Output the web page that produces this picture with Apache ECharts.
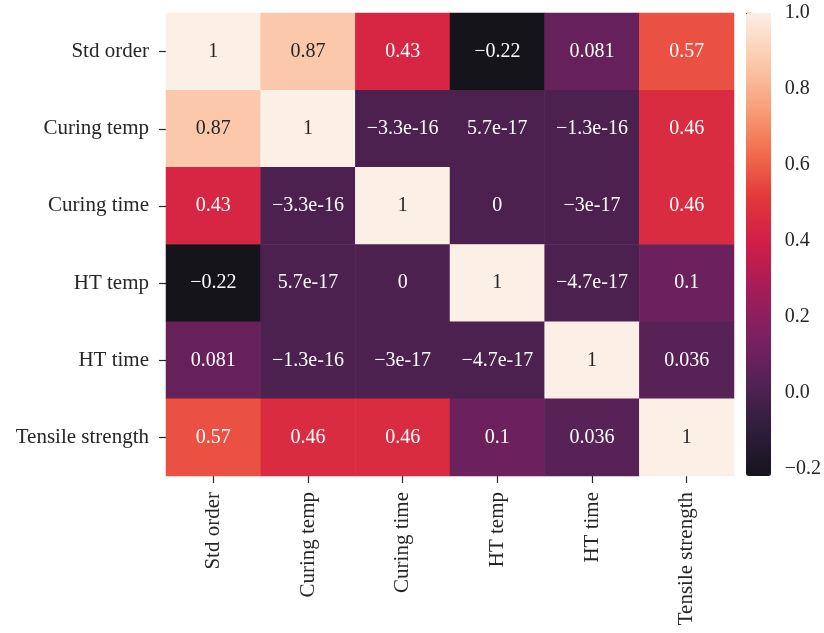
<!DOCTYPE html>
<html>
<head>
<meta charset="utf-8">
<script src="https://cdn.jsdelivr.net/npm/echarts@6/dist/echarts.min.js"></script>
<style>html,body{margin:0;padding:0;background:#fff;}#c{width:824px;height:633px;}</style>
</head>
<body>
<div id="c"></div>
<script>
const labels = ['Std order', 'Curing temp', 'Curing time', 'HT temp', 'HT time', 'Tensile strength'];
const corr = [
  [1, 0.87, 0.43, -0.22, 0.081, 0.57],
  [0.87, 1, -3.3e-16, 5.7e-17, -1.3e-16, 0.46],
  [0.43, -3.3e-16, 1, 0, -3e-17, 0.46],
  [-0.22, 5.7e-17, 0, 1, -4.7e-17, 0.1],
  [0.081, -1.3e-16, -3e-17, -4.7e-17, 1, 0.036],
  [0.57, 0.46, 0.46, 0.1, 0.036, 1]
];
const annot = [
  ['1', '0.87', '0.43', '\u22120.22', '0.081', '0.57'],
  ['0.87', '1', '\u22123.3e-16', '5.7e-17', '\u22121.3e-16', '0.46'],
  ['0.43', '\u22123.3e-16', '1', '0', '\u22123e-17', '0.46'],
  ['\u22120.22', '5.7e-17', '0', '1', '\u22124.7e-17', '0.1'],
  ['0.081', '\u22121.3e-16', '\u22123e-17', '\u22124.7e-17', '1', '0.036'],
  ['0.57', '0.46', '0.46', '0.1', '0.036', '1']
];
const cbTicks = [-0.2, 0, 0.2, 0.4, 0.6, 0.8, 1.0];
const vMin = -0.22, vMax = 1;
// rocket-like colormap, evenly spaced stops
const rocket = ['#15141b', '#2e1d3b', '#532255', '#7c2060', '#a21d58', '#d01d49',
                '#e2373a', '#f26e4c', '#f7a27c', '#fbcbaf', '#fcefe5'];

const FONT = "'Liberation Serif', 'DejaVu Serif', serif";
const TXT = '#262626';

const data = [];
for (let r = 0; r < labels.length; r++) {
  for (let c = 0; c < labels.length; c++) {
    const v = corr[r][c];
    data.push({
      value: [c, r, v],
      label: { color: v > 0.7 ? TXT : '#ffffff' }
    });
  }
}

const chart = echarts.init(document.getElementById('c'), null, { renderer: 'canvas' });
chart.setOption({
  animation: false,
  backgroundColor: '#ffffff',
  textStyle: { fontFamily: FONT },
  grid: [
    { left: 166, top: 13, width: 568, height: 463 },
    { left: 746, top: 13, width: 25, height: 463 }
  ],
  xAxis: [
    {
      type: 'category', data: labels, gridIndex: 0,
      axisLine: { show: false },
      axisTick: { show: true, alignWithLabel: true, length: 7, lineStyle: { color: TXT, width: 1.2 } },
      axisLabel: { rotate: 90, margin: 16, color: TXT, fontSize: 21, fontFamily: FONT, interval: 0 },
      splitLine: { show: false }
    },
    { type: 'value', gridIndex: 1, show: false, min: 0, max: 1 }
  ],
  yAxis: [
    {
      type: 'category', data: labels, gridIndex: 0, inverse: true,
      axisLine: { show: false },
      axisTick: { show: true, alignWithLabel: true, length: 7, lineStyle: { color: TXT, width: 1.2 } },
      axisLabel: { margin: 17, color: TXT, fontSize: 21, fontFamily: FONT, interval: 0 },
      splitLine: { show: false }
    },
    {
      type: 'value', gridIndex: 1, position: 'right', min: vMin, max: vMax,
      axisLine: { show: false },
      splitLine: { show: false },
      axisTick: { show: true, length: 7, customValues: cbTicks, lineStyle: { color: TXT, width: 1.2 } },
      axisLabel: {
        customValues: cbTicks, margin: 15, color: TXT, fontSize: 20, fontFamily: FONT,
        formatter: v => v.toFixed(1).replace('-', '\u2212')
      }
    }
  ],
  visualMap: {
    type: 'continuous', min: vMin, max: vMax, dimension: 2, seriesIndex: 0,
    orient: 'vertical', left: 746, top: 13, itemWidth: 25, itemHeight: 463,
    padding: 0, calculable: false, show: true, hoverLink: false,
    inRange: { color: rocket },
    textStyle: { color: 'transparent' }
  },
  series: [
    {
      type: 'heatmap', xAxisIndex: 0, yAxisIndex: 0, data: data,
      label: {
        show: true, fontSize: 20, fontFamily: FONT,
        formatter: p => annot[p.value[1]][p.value[0]]
      },
      itemStyle: { borderWidth: 0 },
      emphasis: { disabled: true }
    },
    { type: 'scatter', xAxisIndex: 1, yAxisIndex: 1, data: [], silent: true }
  ]
});
</script>
</body>
</html>
